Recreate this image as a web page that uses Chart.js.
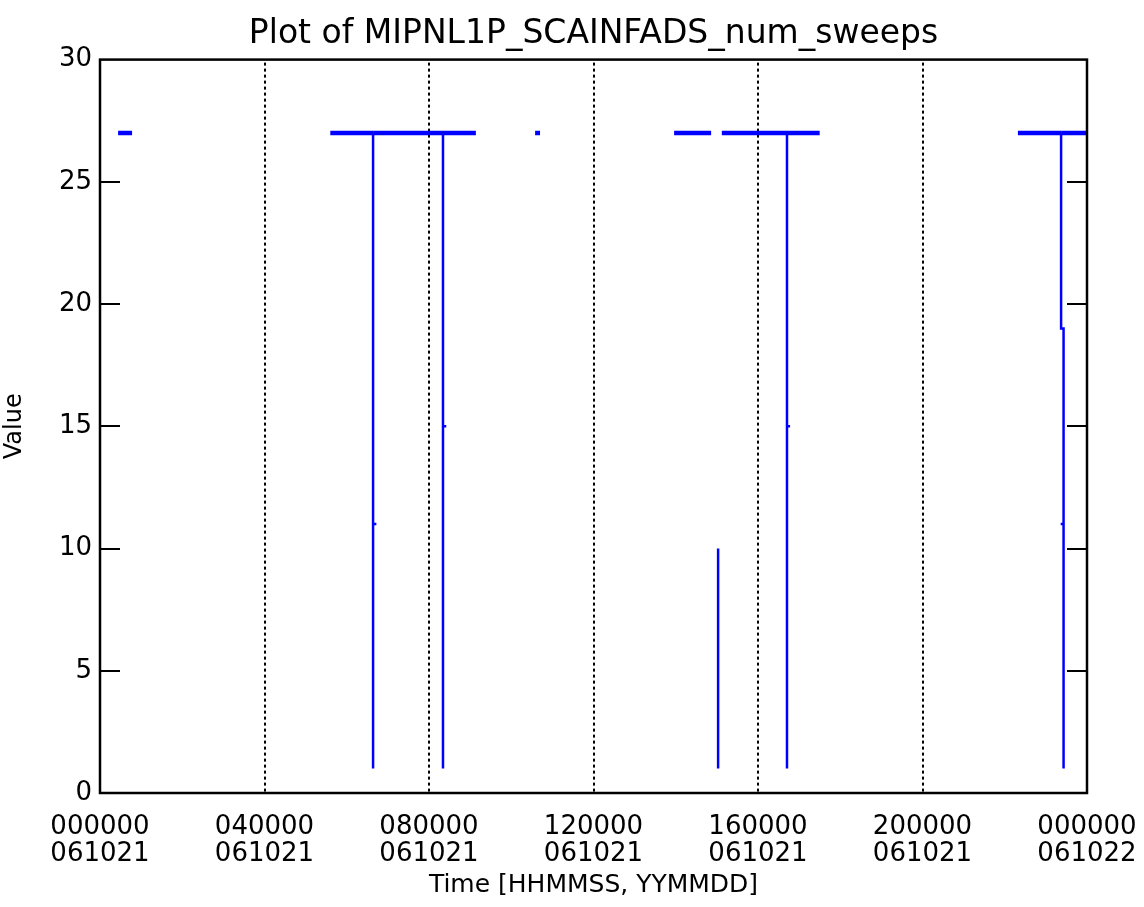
<!DOCTYPE html>
<html>
<head>
<meta charset="utf-8">
<script src="https://cdn.jsdelivr.net/npm/chart.js@4/dist/chart.umd.min.js"></script>
<style>
  body { margin: 0; background: #fff; }
  #wrap { width: 1144px; height: 907px; }
</style>
</head>
<body>
<div id="wrap"><canvas id="myChart"></canvas></div>
<script>
// time in hours since 000000 061021, value of num_sweeps (null = data gap)
const timeHours = [
  0.44, 0.78, 3.0,
  5.60, 6.64, 6.64, 6.64, 6.72, 6.64, 6.64,
  8.34, 8.34, 8.34, 8.42, 8.34, 8.34, 9.14, 9.9,
  10.58, 10.70, 12.0,
  13.96, 14.86, 14.95,
  15.03, 15.03, 15.07,
  15.12, 16.705, 16.705, 16.705, 16.78, 16.705, 16.705, 17.50, 20.0,
  22.32, 23.37, 23.37, 23.43, 23.43, 23.43, 23.36, 23.43, 23.43, 23.37, 23.37, 24.0
];
const sweepValues = [
  27, 27, null,
  27, 27, 1, 11, 11, 11, 27,
  27, 1, 15, 15, 15, 27, 27, null,
  27, 27, null,
  27, 27, null,
  10, 1, null,
  27, 27, 1, 15, 15, 15, 27, 27, null,
  27, 27, 19, 19, 1, 11, 11, 11, 19, 19, 27, 27
];
const xTickValues = [0, 4, 8, 12, 16, 20, 24];
const xTickLabels = [
  ['000000', '061021'], ['040000', '061021'], ['080000', '061021'],
  ['120000', '061021'], ['160000', '061021'], ['200000', '061021'],
  ['000000', '061022']
];
const yTickValues = [0, 5, 10, 15, 20, 25, 30];

const points = timeHours.map(function(t, i) { return { x: t, y: sweepValues[i] }; });

// IDL style frame: box, inward y ticks on both sides, dotted time grid
const idlFrame = {
  id: 'idlFrame',
  beforeDatasetsDraw: function(chart) {
    const ctx = chart.ctx, area = chart.chartArea, xs = chart.scales.x;
    ctx.save();
    ctx.strokeStyle = '#000';
    ctx.lineWidth = 2;
    ctx.setLineDash([3, 3]);
    xTickValues.forEach(function(v) {
      if (v === xs.min || v === xs.max) return;
      const px = Math.round(xs.getPixelForValue(v));
      ctx.beginPath();
      ctx.moveTo(px, area.top + 3);
      ctx.lineTo(px, area.bottom);
      ctx.stroke();
    });
    ctx.restore();
  },
  afterDatasetsDraw: function(chart) {
    const ctx = chart.ctx, area = chart.chartArea, ys = chart.scales.y;
    ctx.save();
    ctx.strokeStyle = '#000';
    ctx.lineWidth = 2.5;
    ctx.strokeRect(area.left, area.top, area.right - area.left, area.bottom - area.top);
    ctx.lineWidth = 2;
    yTickValues.forEach(function(v) {
      if (v === ys.min || v === ys.max) return;
      const py = Math.round(ys.getPixelForValue(v));
      ctx.beginPath();
      ctx.moveTo(area.left, py);
      ctx.lineTo(area.left + 20, py);
      ctx.moveTo(area.right, py);
      ctx.lineTo(area.right - 20, py);
      ctx.stroke();
    });
    ctx.restore();
  }
};

const config = {
  type: 'line',
  data: {
    datasets: [{
      label: 'MIPNL1P_SCAINFADS_num_sweeps',
      data: points,
      borderColor: 'rgb(0, 0, 255)',
      borderWidth: 2.5,
      pointRadius: 0,
      spanGaps: false,
      segment: {
        borderWidth: function(ctx) {
          return (ctx.p0.parsed.y === 27 && ctx.p1.parsed.y === 27) ? 4.5 : 2.5;
        }
      }
    }]
  },
  options: {
    responsive: true,
    maintainAspectRatio: false,
    animation: false,
    layout: { padding: { left: 0, right: 57, top: 0, bottom: 0 } },
    plugins: {
      legend: { display: false },
      tooltip: { enabled: false },
      title: {
        display: true,
        fullSize: false,
        text: 'Plot of MIPNL1P_SCAINFADS_num_sweeps',
        color: '#000',
        font: { family: 'DejaVu Sans', size: 33, weight: 'normal', lineHeight: 1.2 },
        padding: { top: 15, bottom: 5 }
      }
    },
    scales: {
      x: {
        type: 'linear',
        min: 0,
        max: 24,
        afterFit: function(scale) {
          scale.height = 114;
          scale.paddingLeft = 0;
          scale.paddingRight = 0;
        },
        afterBuildTicks: function(scale) {
          scale.ticks = xTickValues.map(function(v) { return { value: v }; });
        },
        ticks: {
          autoSkip: false,
          maxRotation: 0,
          padding: 21,
          color: '#000',
          font: { family: 'DejaVu Sans', size: 26, lineHeight: 1.04 },
          callback: function(value) { return xTickLabels[xTickValues.indexOf(value)]; }
        },
        grid: { display: false, drawTicks: false },
        border: { display: false },
        title: {
          display: true,
          text: 'Time [HHMMSS, YYMMDD]',
          color: '#000',
          font: { family: 'DejaVu Sans', size: 25, lineHeight: 1.2 },
          padding: { top: 0, bottom: 7 }
        }
      },
      y: {
        min: 0,
        max: 30,
        afterFit: function(scale) { scale.width = 100; },
        afterBuildTicks: function(scale) {
          scale.ticks = yTickValues.map(function(v) { return { value: v }; });
        },
        ticks: {
          padding: 8,
          color: '#000',
          font: { family: 'DejaVu Sans', size: 26 }
        },
        grid: { display: false, drawTicks: false },
        border: { display: false },
        title: {
          display: true,
          text: 'Value',
          color: '#000',
          font: { family: 'DejaVu Sans', size: 24, lineHeight: 1.2 },
          padding: { top: 0, bottom: 0 }
        }
      }
    }
  },
  plugins: [idlFrame]
};

var myChart = new Chart(document.getElementById('myChart'), config);
</script>
</body>
</html>
